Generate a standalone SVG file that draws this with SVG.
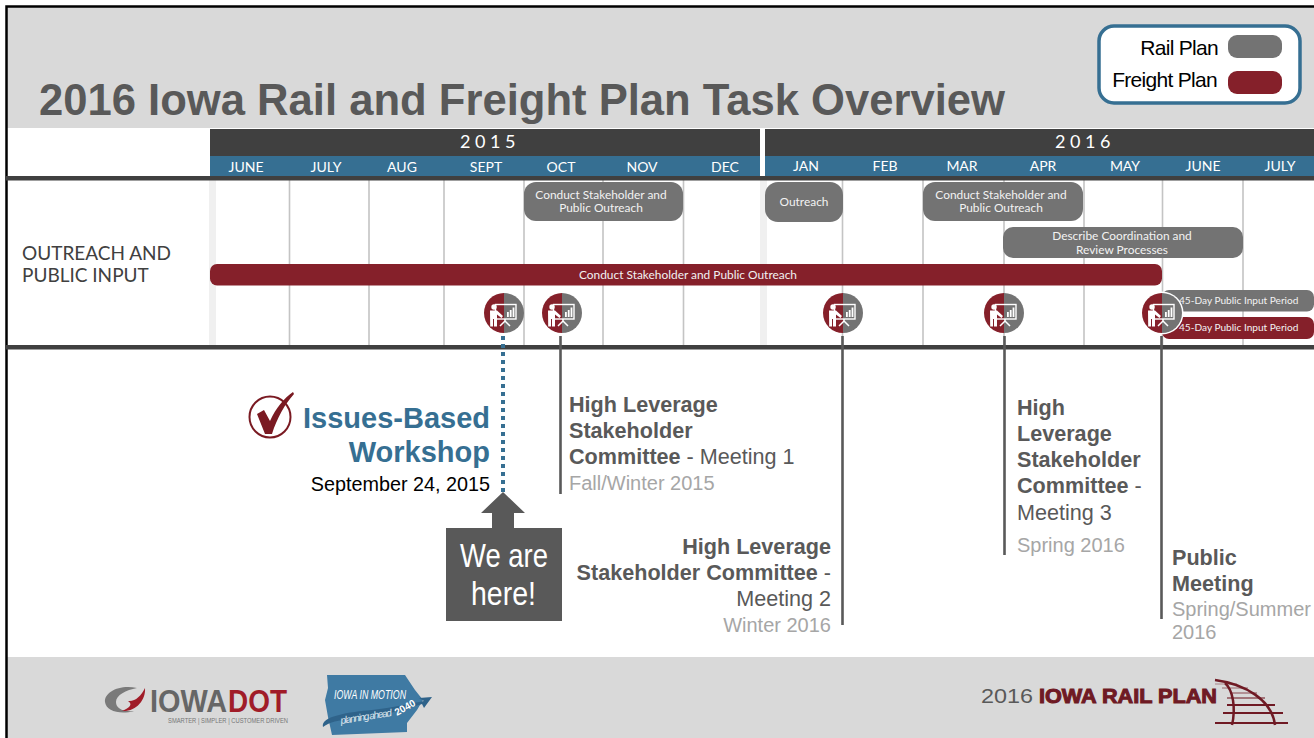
<svg xmlns="http://www.w3.org/2000/svg" width="1314" height="738" viewBox="0 0 1314 738">
<style>
.h{font-family:"Liberation Sans",Arial,sans-serif}
.l{font-family:"Lato","Open Sans",sans-serif}
.m{font-size:14px;fill:#fff;text-anchor:middle}
.y{font-size:18px;fill:#fff;text-anchor:middle;letter-spacing:4.5px}
.g{stroke:#c4c4c4;stroke-width:1.6;fill:none}
.bar{font-size:11.900px;fill:#f2f2f2;text-anchor:middle}
.bs{font-size:10.100px;fill:#f2f2f2}
.rail{fill:#737373}
.fr{fill:#85202a}
.t{font-size:21.600px;fill:#595959}
.bd{font-weight:700}
.s{font-size:20px;fill:#a6a6a6}
.c{stroke:#595959;stroke-width:2.6;fill:none}
</style>
<defs>
<g id="pres">
<path d="M0-20A20 20 0 0 0 0 20Z" fill="#85202a"/>
<path d="M0-20A20 20 0 0 1 0 20Z" fill="#737373"/>
<rect x="-8.500" y="-8.500" width="20.500" height="14.500" fill="none" stroke="#fff" stroke-width="1.400"/>
<rect x="3" y="-1" width="1.800" height="5" fill="#fff"/><rect x="5.800" y="-3" width="1.800" height="7" fill="#fff"/><rect x="8.600" y="-5.500" width="1.800" height="9.500" fill="#fff"/>
<circle cx="-10" cy="-6" r="2.700" fill="#fff"/>
<path d="M-14-2.500H-7L-1 3-2.500 5-7 1.500V13.500H-10V6H-11V13.500H-13.800Z" fill="#fff"/>
<path d="M1 6V8M1 8-4 13M1 8 6 13" stroke="#fff" stroke-width="1.500" fill="none"/>
</g>
</defs>
<rect width="1314" height="738" fill="#fff"/>
<rect x="6" y="6" width="1308" height="122" fill="#d9d9d9"/>
<rect x="6" y="657" width="1308" height="81" fill="#d9d9d9"/>
<path d="M6.500 738V6.500H1314" fill="none" stroke="#000" stroke-width="2.500"/>
<text class="h bd" x="39" y="115" font-size="44" fill="#595959" textLength="966" lengthAdjust="spacingAndGlyphs">2016 Iowa Rail and Freight Plan Task Overview</text>

<g id="legend">
<rect x="1099" y="26" width="201" height="77" rx="15" fill="#fff" stroke="#366f92" stroke-width="3.500"/>
<text class="h" x="1218" y="55" font-size="21" text-anchor="end" letter-spacing="-.7">Rail Plan</text>
<text class="h" x="1217" y="87" font-size="21" text-anchor="end" letter-spacing="-.7">Freight Plan</text>
<rect class="rail" x="1228" y="35" width="54" height="23" rx="9"/>
<rect class="fr" x="1228" y="71" width="54" height="23" rx="9"/>
</g>

<g id="timeline-header">
<rect x="210" y="129" width="550" height="27" fill="#404040"/>
<rect x="765" y="129" width="549" height="27" fill="#404040"/>
<rect x="210" y="156" width="550" height="20" fill="#366f92"/>
<rect x="765" y="156" width="549" height="20" fill="#366f92"/>
<text class="l y" x="490" y="148">2015</text>
<text class="l y" x="1085" y="148">2016</text>
<g class="l">
<text class="m" x="246" y="172">JUNE</text><text class="m" x="326" y="172">JULY</text><text class="m" x="402" y="172">AUG</text><text class="m" x="486" y="172">SEPT</text><text class="m" x="561" y="172">OCT</text><text class="m" x="642" y="172">NOV</text><text class="m" x="725" y="172">DEC</text>
<text class="m" x="806" y="171">JAN</text><text class="m" x="885" y="171">FEB</text><text class="m" x="962" y="171">MAR</text><text class="m" x="1043" y="171">APR</text><text class="m" x="1125" y="171">MAY</text><text class="m" x="1203" y="171">JUNE</text><text class="m" x="1280" y="171">JULY</text>
</g>
</g>

<g id="grid">
<rect x="209" y="180" width="7" height="165" fill="#f0f0f0"/>
<rect x="760" y="180" width="7" height="165" fill="#f0f0f0"/>
<path class="g" d="M289.500 180V345M369 180V345M444 180V345M524 180V345M603 180V345M683.500 180V345M842.500 180V345M923 180V345M1004 180V345M1084 180V345M1162.500 180V345M1243 180V345"/>
<rect x="6" y="176" width="1308" height="4.500" fill="#404040"/>
<rect x="6" y="345" width="1308" height="4.500" fill="#404040"/>
</g>

<text class="l" x="22" y="260" font-size="19" fill="#404040">OUTREACH AND</text>
<text class="l" x="22" y="282" font-size="19" fill="#404040">PUBLIC INPUT</text>

<g id="task-rail-1"><rect class="rail" x="524" y="182" width="159" height="39" rx="12"/><text class="l bar" x="601" y="199">Conduct Stakeholder and</text><text class="l bar" x="601" y="212">Public Outreach</text></g>
<g id="task-rail-2"><rect class="rail" x="765" y="182" width="78" height="40" rx="13"/><text class="l bar" x="804" y="206">Outreach</text></g>
<g id="task-rail-3"><rect class="rail" x="923" y="182" width="160" height="39" rx="12"/><text class="l bar" x="1001" y="199">Conduct Stakeholder and</text><text class="l bar" x="1001" y="212">Public Outreach</text></g>
<g id="task-rail-4"><rect class="rail" x="1003" y="227" width="240" height="31" rx="10"/><text class="l bar" x="1122" y="240">Describe Coordination and</text><text class="l bar" x="1122" y="254">Review Processes</text></g>
<g id="task-freight-1"><rect class="fr" x="210" y="264" width="952" height="21.500" rx="7"/><text class="l bar" x="688" y="279">Conduct Stakeholder and Public Outreach</text></g>
<g id="task-rail-5"><rect class="rail" x="1162" y="290" width="152" height="21.500" rx="7"/><text class="l bs" x="1179" y="304">45-Day Public Input Period</text></g>
<g id="task-freight-2"><rect class="fr" x="1162" y="317" width="152" height="22" rx="7"/><text class="l bs" x="1179" y="331">45-Day Public Input Period</text></g>

<g id="connectors">
<path d="M503 336V492" fill="none" stroke="#366f92" stroke-width="4" stroke-dasharray="4 4"/>
<path class="c" d="M560.500 336V494M842.500 336V625M1004.500 336V555M1161.500 336V619"/>
</g>

<g id="meeting-icons">
<use href="#pres" x="504" y="313"/>
<use href="#pres" x="562" y="313"/>
<use href="#pres" x="843" y="313"/>
<use href="#pres" x="1004" y="313"/>
<circle cx="1162" cy="313" r="21.500" fill="#fff"/>
<use href="#pres" x="1162" y="313"/>
</g>

<g id="workshop">
<circle cx="270" cy="417" r="20.500" fill="none" stroke="#7a1a22" stroke-width="2"/>
<path d="M257 414 264 410 270 421C276 408 284 398 293 392L294 394C285 404 277 418 272 434H265Z" fill="#7a1a22"/>
<text class="h bd" x="490" y="428" font-size="29" fill="#366f92" text-anchor="end">Issues-Based</text>
<text class="h bd" x="490" y="462" font-size="29" fill="#366f92" text-anchor="end">Workshop</text>
<text class="h" x="490" y="491" font-size="19.800" text-anchor="end">September 24, 2015</text>
</g>

<g id="we-are-here">
<path d="M503 492 525 513H514V528H492V513H481Z" fill="#595959"/>
<rect x="446" y="528" width="116" height="93" fill="#595959"/>
<text class="h" x="460" y="567" font-size="33" fill="#fff" textLength="88" lengthAdjust="spacingAndGlyphs">We are</text>
<text class="h" x="471" y="605" font-size="33" fill="#fff" textLength="65" lengthAdjust="spacingAndGlyphs">here!</text>
</g>

<g id="meeting-1" class="h">
<text class="t bd" x="569" y="412">High Leverage</text>
<text class="t bd" x="569" y="438">Stakeholder</text>
<text class="t" x="569" y="464"><tspan font-weight="700">Committee</tspan> - Meeting 1</text>
<text class="s" x="569" y="490">Fall/Winter 2015</text>
</g>
<g id="meeting-2" class="h" text-anchor="end">
<text class="t bd" x="831" y="554">High Leverage</text>
<text class="t" x="831" y="580"><tspan font-weight="700">Stakeholder Committee</tspan> -</text>
<text class="t" x="831" y="606">Meeting 2</text>
<text class="s" x="831" y="632">Winter 2016</text>
</g>
<g id="meeting-3" class="h">
<text class="t bd" x="1017" y="415">High</text>
<text class="t bd" x="1017" y="441">Leverage</text>
<text class="t bd" x="1017" y="467">Stakeholder</text>
<text class="t" x="1017" y="493"><tspan font-weight="700">Committee</tspan> -</text>
<text class="t" x="1017" y="520">Meeting 3</text>
<text class="s" x="1017" y="552">Spring 2016</text>
</g>
<g id="public-meeting" class="h">
<text class="t bd" x="1172" y="565">Public</text>
<text class="t bd" x="1172" y="591">Meeting</text>
<text class="s" x="1172" y="616">Spring/Summer</text>
<text class="s" x="1172" y="639">2016</text>
</g>

<g id="logo-iowadot">
<path d="M137 688C120 684 104 692 105 702 106 711 120 715 134 711 122 712 116 708 116 702 116 695 126 690 137 688Z" fill="#7a7a7a"/>
<path d="M145 688C146 700 136 712 122 711 130 708 133 704 128 701 135 702 141 696 145 688Z" fill="#a01c28"/>
<text class="h bd" x="150" y="712" font-size="31" fill="#666" textLength="77" lengthAdjust="spacingAndGlyphs">IOWA</text>
<text class="h bd" x="228" y="712" font-size="31" fill="#a01c28" textLength="59" lengthAdjust="spacingAndGlyphs">DOT</text>
<text class="h" x="168" y="723" font-size="7" fill="#777" textLength="120" lengthAdjust="spacingAndGlyphs">SMARTER | SIMPLER | CUSTOMER DRIVEN</text>
</g>
<g id="logo-iowa-in-motion">
<path d="M327 675H405L415 690 423 700 417 710 407 723 407 732 332 735 328 717 325 700 328 688Z" fill="#3f7aa3"/>
<path d="M323 727C320 716 350 712 372 710 392 708 412 703 424 701L419 698 432 697 424 708 422 704C400 711 378 717 352 719 338 720 330 722 323 727Z" fill="#2f638a"/>
<text class="h" x="334" y="699" font-size="13" font-style="italic" fill="#fff" textLength="72" lengthAdjust="spacingAndGlyphs">IOWA IN MOTION</text>
<text class="h" x="341" y="724" font-size="10" font-style="italic" fill="#dfe7ee" transform="rotate(-9 341 724)" textLength="52">planning ahead</text>
<text class="h bd" x="397" y="716" font-size="10" fill="#fff" transform="rotate(-30 397 716)">2040</text>
</g>
<g id="logo-rail-plan">
<text class="h" x="981" y="703" font-size="21" fill="#595959" textLength="52" lengthAdjust="spacingAndGlyphs">2016</text>
<text class="h bd" x="1039" y="703" font-size="20" stroke="#6f1a24" stroke-width="1" fill="#6f1a24" textLength="178" lengthAdjust="spacingAndGlyphs">IOWA RAIL PLAN</text>
<g fill="none" stroke="#6f1a24">
<path d="M1215 680C1245 684 1272 700 1275 725" stroke-width="2.500"/>
<path d="M1225 683C1233 690 1236 708 1232 725" stroke-width="2.500"/>
<path d="M1215 723H1288" stroke-width="2"/>
<path d="M1223 713H1283" stroke-width="2"/>
<path d="M1227 705H1275" stroke-width="2"/>
<path d="M1227 698H1265" stroke-width="1.500" opacity=".7"/>
<path d="M1230 693H1257" stroke-width="1.500" opacity=".5"/>
<path d="M1222 688H1248" stroke-width="1.500" opacity=".4"/>
<path d="M1215 684H1237" stroke-width="1.500" opacity=".3"/>
</g>
</g>
</svg>
